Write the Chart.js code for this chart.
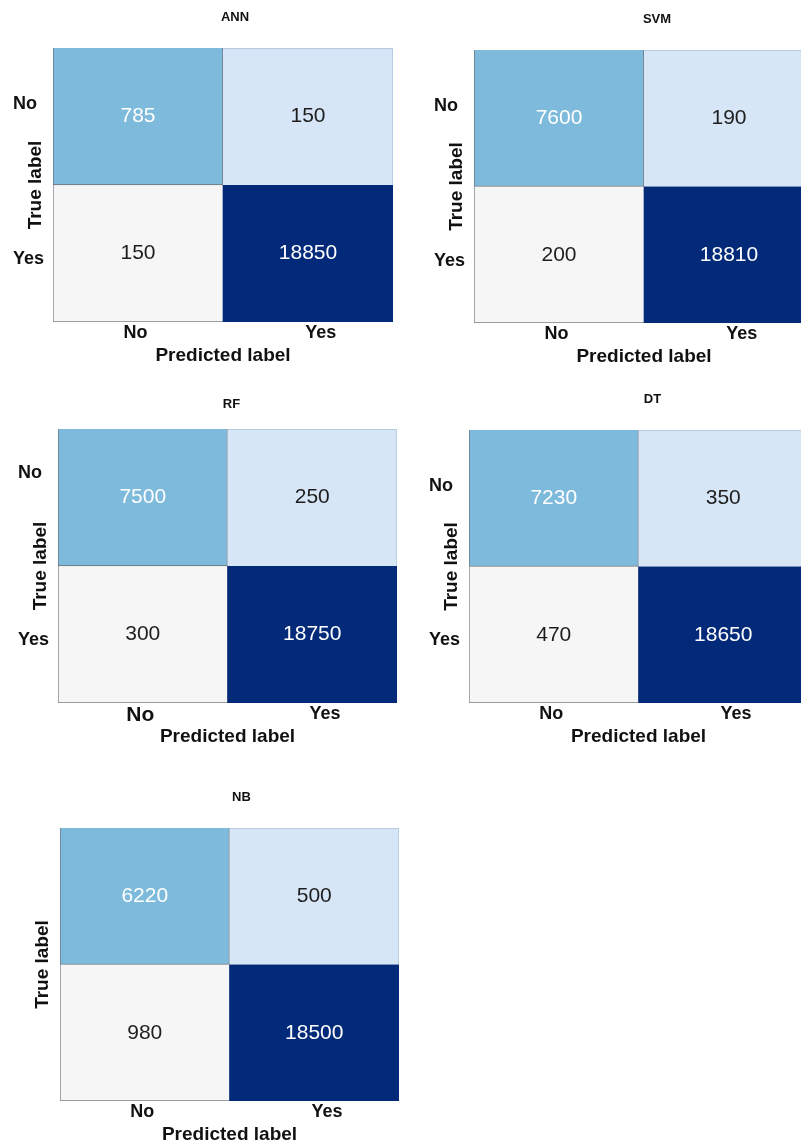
<!DOCTYPE html>
<html>
<head>
<meta charset="utf-8">
<script src="https://cdn.jsdelivr.net/npm/chart.js@4.4.1/dist/chart.umd.min.js"></script>
<style>
  html, body { margin: 0; padding: 0; background: #ffffff; overflow: hidden; width: 801px; height: 1144px; position: relative; }
  canvas { position: absolute; }
</style>
</head>
<body>
<script>
// Confusion matrices of the five classifiers.
const modelNames = ['ANN', 'SVM', 'RF', 'DT', 'NB'];
const predictedLabels = ['No', 'Yes'];
const trueLabels = ['No', 'Yes'];
// rows: true No, true Yes; columns: predicted No, predicted Yes
const annCounts = [[785, 150], [150, 18850]];
const svmCounts = [[7600, 190], [200, 18810]];
const rfCounts  = [[7500, 250], [300, 18750]];
const dtCounts  = [[7230, 350], [470, 18650]];
const nbCounts  = [[6220, 500], [980, 18500]];
const countsByModel = [annCounts, svmCounts, rfCounts, dtCounts, nbCounts];

// Cell styling by position in the matrix (TN, FP / FN, TP).
const cellColors = [['#7ebadb', '#d7e6f7'], ['#f6f6f6', '#032a79']];
const cellTextColors = [['#ffffff', '#1e1e1e'], ['#1e1e1e', '#ffffff']];
const cellEdgeColors = [['rgba(80, 88, 100, 0.85)', '#aac3dc'], ['rgba(90, 96, 106, 0.8)', '#032a79']];
const cellEdges = [
  [{ top: 0, right: 1, bottom: 1, left: 1 }, { top: 1, right: 1, bottom: 0, left: 0 }],
  [{ top: 0, right: 0, bottom: 1, left: 1 }, { top: 0, right: 0, bottom: 0, left: 0 }]
];

// Page layout of each panel: plot rect [left, top, width, height],
// title offset from the plot's top centre, tick placement in axis units.
const panelLayout = [
  { plot: [53, 48, 340, 274],  title: [12, -31],  yTickAt: [0.458, 1.59], showYTicks: true,  xNoSize: 18 },
  { plot: [474, 50, 340, 273], title: [13, -31],  yTickAt: [0.454, 1.59], showYTicks: true,  xNoSize: 18 },
  { plot: [58, 429, 339, 274], title: [4, -25],   yTickAt: [0.458, 1.68], showYTicks: true,  xNoSize: 21 },
  { plot: [469, 430, 339, 273], title: [14, -31], yTickAt: [0.459, 1.59], showYTicks: true,  xNoSize: 18 },
  { plot: [60, 828, 339, 273], title: [12, -31],  yTickAt: [0.458, 1.59], showYTicks: false, xNoSize: 18 }
];
const xTickAt = [0.485, 1.575];

const FONT = '"Liberation Sans", Arial, Helvetica, sans-serif';
const Y_AXIS_W = 40, X_AXIS_H = 45, PAD_TOP = 45, PAD_RIGHT = 10, PAD_BOTTOM = 5;

// Writes each cell's count in the middle of its bar.
const cellText = {
  id: 'cellText',
  afterDatasetsDraw(chart) {
    const ctx = chart.ctx;
    ctx.save();
    ctx.font = '21px ' + FONT;
    ctx.textAlign = 'center';
    ctx.textBaseline = 'middle';
    chart.data.datasets.forEach((ds, i) => {
      chart.getDatasetMeta(i).data.forEach((bar, j) => {
        ctx.fillStyle = ds.textColors[j];
        ctx.fillText(String(ds.data[j].v), bar.x, (bar.y + bar.base) / 2);
      });
    });
    ctx.restore();
  }
};

// Small bold model name above the matrix.
const panelTitle = {
  id: 'panelTitle',
  afterDraw(chart, args, opts) {
    const { ctx, chartArea } = chart;
    ctx.save();
    ctx.font = 'bold 13px ' + FONT;
    ctx.fillStyle = '#111111';
    ctx.textAlign = 'center';
    ctx.textBaseline = 'middle';
    ctx.fillText(opts.text, (chartArea.left + chartArea.right) / 2 + opts.dx, chartArea.top + opts.dy);
    ctx.restore();
  }
};

function buildPanel(idx) {
  const lay = panelLayout[idx];
  const counts = countsByModel[idx];
  const [L, T, W, H] = lay.plot;
  const canvas = document.createElement('canvas');
  const cw = W + Y_AXIS_W + PAD_RIGHT;
  const ch = H + PAD_TOP + X_AXIS_H + PAD_BOTTOM;
  canvas.width = cw; canvas.height = ch;
  canvas.style.width = cw + 'px'; canvas.style.height = ch + 'px';
  canvas.style.left = (L - Y_AXIS_W) + 'px';
  canvas.style.top = (T - PAD_TOP) + 'px';
  document.body.appendChild(canvas);

  // one dataset per true-label row; row 0 sits on top (y 1..2)
  const datasets = trueLabels.map((rowLabel, r) => ({
    label: 'True ' + rowLabel,
    data: predictedLabels.map((colLabel, c) => ({ x: c + 0.5, y: [1 - r, 2 - r], v: counts[r][c] })),
    backgroundColor: cellColors[r],
    textColors: cellTextColors[r],
    borderColor: cellEdgeColors[r],
    borderWidth: cellEdges[r],
    borderSkipped: false,
    grouped: false,
    barPercentage: 1,
    categoryPercentage: 1
  }));

  const tickFont = { family: FONT, size: 18, weight: 'bold' };
  const titleFont = { family: FONT, size: 19, weight: 'bold' };

  new Chart(canvas, {
    type: 'bar',
    data: { datasets },
    plugins: [cellText, panelTitle],
    options: {
      responsive: false,
      animation: false,
      events: [],
      layout: { padding: { left: 0, top: PAD_TOP, right: PAD_RIGHT, bottom: PAD_BOTTOM } },
      plugins: {
        legend: { display: false },
        tooltip: { enabled: false },
        title: { display: false },
        panelTitle: { text: modelNames[idx], dx: lay.title[0], dy: lay.title[1] }
      },
      scales: {
        x: {
          type: 'linear', min: 0, max: 2, offset: false,
          grid: { display: false, drawTicks: false },
          border: { display: false },
          afterBuildTicks: s => { s.ticks = xTickAt.map(v => ({ value: v })); },
          afterFit: s => { s.height = X_AXIS_H; },
          ticks: {
            autoSkip: false, maxRotation: 0, padding: 0, color: '#111111',
            font: c => ({ family: FONT, size: c.index === 0 ? lay.xNoSize : 18, weight: 'bold' }),
            callback: (v, i) => predictedLabels[i]
          },
          title: { display: true, text: 'Predicted label', font: titleFont, color: '#111111', padding: 0 }
        },
        y: {
          type: 'linear', min: 0, max: 2,
          grid: { display: false, drawTicks: false },
          border: { display: false },
          afterBuildTicks: s => { s.ticks = lay.yTickAt.map(v => ({ value: v })); },
          afterFit: s => { s.width = Y_AXIS_W; },
          ticks: {
            display: lay.showYTicks, autoSkip: false, padding: 0, crossAlign: 'far', color: '#111111',
            font: tickFont,
            callback: (v, i) => trueLabels[trueLabels.length - 1 - i]
          },
          title: { display: true, text: 'True label', font: titleFont, color: '#111111', padding: 11 }
        }
      }
    }
  });
}

modelNames.forEach((_, i) => buildPanel(i));
</script>
</body>
</html>
